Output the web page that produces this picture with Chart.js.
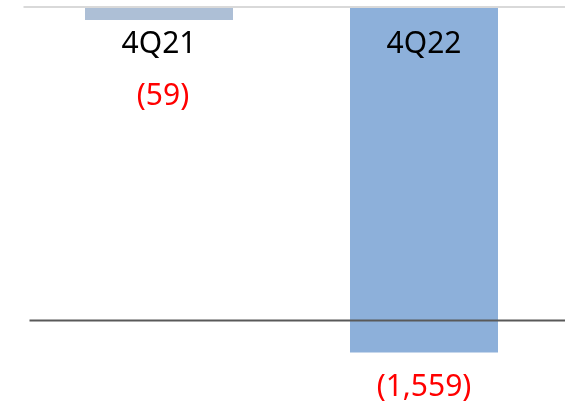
<!DOCTYPE html>
<html>
<head>
<meta charset="utf-8">
<script src="https://cdn.jsdelivr.net/npm/chart.js@4/dist/chart.umd.min.js"></script>
<style>
  html, body { margin: 0; padding: 0; background: #fff; }
  #wrap { width: 573px; height: 404px; position: relative; }
</style>
</head>
<body>
<div id="wrap"><canvas id="grafico"></canvas></div>
<script>
// dados
const quarters = ['4Q21', '4Q22'];
const values = [-59, -1559];
const valueLabels = ['(59)', '(1,559)'];
const barColors = ['#adbfd6', '#8db0da'];
const referenceLevel = -1414; // linha escura

const FONT = '"Noto Sans", "DejaVu Sans", sans-serif';

// linhas + rótulos
const overlay = {
  id: 'overlay',
  afterDatasetsDraw(chart) {
    const { ctx, chartArea, scales } = chart;
    const y0 = scales.y.getPixelForValue(0);
    const yRef = scales.y.getPixelForValue(referenceLevel);

    ctx.save();
    ctx.lineWidth = 2;
    ctx.strokeStyle = '#d9d9d9';
    ctx.beginPath();
    ctx.moveTo(chartArea.left - 3, y0);
    ctx.lineTo(chart.width - 8, y0);
    ctx.stroke();

    ctx.strokeStyle = '#595959';
    ctx.beginPath();
    ctx.moveTo(chartArea.left + 3, yRef);
    ctx.lineTo(chart.width - 8, yRef);
    ctx.stroke();

    const meta = chart.getDatasetMeta(0);
    ctx.textAlign = 'center';
    ctx.textBaseline = 'middle';
    const catY = y0 + 37;
    meta.data.forEach((bar, i) => {
      ctx.fillStyle = '#000';
      ctx.font = '30px ' + FONT;
      ctx.fillText(quarters[i], bar.x, catY);

      ctx.fillStyle = '#ff0000';
      ctx.font = '30px ' + FONT;
      const small = bar.y + 33 < catY + 50;
      const vy = small ? catY + 52 : bar.y + 35;
      ctx.fillText(valueLabels[i], bar.x + (small ? 4 : 0), vy);
    });
    ctx.restore();
  }
};

new Chart(document.getElementById('grafico'), {
  type: 'bar',
  data: {
    labels: quarters,
    datasets: [{
      data: values,
      backgroundColor: barColors,
      borderWidth: 0,
      categoryPercentage: 1,
      barPercentage: 0.5585
    }]
  },
  options: {
    responsive: true,
    maintainAspectRatio: false,
    animation: false,
    layout: { padding: { left: 26.5, right: 16.5, top: 7, bottom: 42.4 } },
    plugins: { legend: { display: false }, tooltip: { enabled: false } },
    scales: {
      x: { display: false },
      y: { display: false, min: -1600, max: 0 }
    }
  },
  plugins: [overlay]
});
</script>
</body>
</html>
